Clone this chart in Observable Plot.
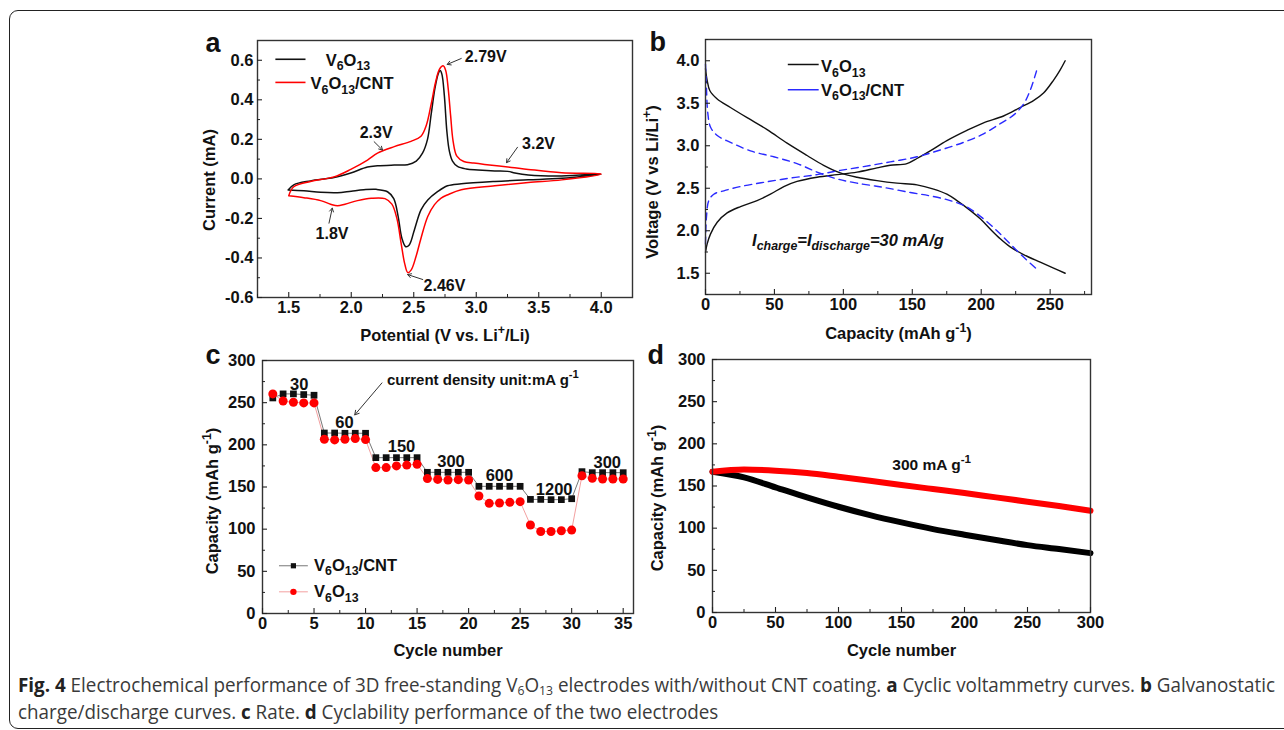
<!DOCTYPE html>
<html><head><meta charset="utf-8">
<script src="https://cdn.jsdelivr.net/npm/d3@7"></script>
<script src="https://cdn.jsdelivr.net/npm/@observablehq/plot@0.6"></script>
<style>
html,body{margin:0;padding:0;background:#fff;}
#fig{position:relative;width:1284px;height:730px;overflow:hidden;background:#fff;}
#border{position:absolute;left:9px;top:10px;width:1320px;height:719px;border:1.6px solid #222;border-radius:9px;box-sizing:border-box;}
.panel{position:absolute;}
.panel svg{overflow:visible;}
.panel svg text{font-weight:bold;font-family:"Liberation Sans",Arial,Helvetica,sans-serif;}
#caption{position:absolute;left:18px;top:671px;font-family:"Liberation Sans Narrow","Open Sans",sans-serif;font-size:20px;color:#3a3a3a;line-height:27px;white-space:nowrap;transform-origin:0 0;}
#caption div{display:inline-block;}
#caption b{color:#222;}
#caption sub{font-size:65%;vertical-align:-0.25em;line-height:0;}
</style>
</head><body>
<div id="fig">
  <div id="border"></div>
  <div id="pa" class="panel"></div>
  <div id="pb" class="panel"></div>
  <div id="pc" class="panel"></div>
  <div id="pd" class="panel"></div>
  <div id="caption"><div id="cap1"><b>Fig. 4</b> Electrochemical performance of 3D free-standing V<sub>6</sub>O<sub>13</sub> electrodes with/without CNT coating. <b>a</b> Cyclic voltammetry curves. <b>b</b> Galvanostatic</div><br><div>charge/discharge curves. <b>c</b> Rate. <b>d</b> Cyclability performance of the two electrodes</div></div>
</div>
<script>
// ---------- Panel a: cyclic voltammetry (potential V, current mA) ----------
const cvBare = [
  [1.495,-0.056],[1.54,-0.03],[1.674,-0.01],[1.862,0.007],[1.996,0.03],[2.13,0.06],[2.21,0.066],[2.344,0.07],
  [2.45,0.072],[2.52,0.09],[2.57,0.13],[2.61,0.2],[2.64,0.33],[2.67,0.46],[2.695,0.53],[2.711,0.548],[2.725,0.53],
  [2.745,0.42],[2.765,0.24],[2.785,0.14],[2.81,0.09],[2.85,0.063],[2.92,0.05],[3.014,0.045],[3.148,0.04],[3.255,0.038],
  [3.309,0.03],[3.416,0.02],[3.684,0.015],[4.0,0.025],
  [3.684,0.003],[3.416,-0.005],[3.148,-0.013],[2.88,-0.025],[2.77,-0.035],[2.69,-0.065],[2.612,-0.107],[2.558,-0.157],
  [2.505,-0.258],[2.464,-0.334],[2.436,-0.343],[2.405,-0.3],[2.375,-0.19],[2.34,-0.1],[2.29,-0.065],[2.2,-0.053],
  [2.1,-0.055],[2.0,-0.062],[1.889,-0.07],[1.755,-0.068],[1.621,-0.06],[1.495,-0.056]
];
const cvCNT = [
  [1.5,-0.085],[1.54,-0.04],[1.674,-0.013],[1.862,0.01],[1.996,0.048],[2.13,0.095],[2.21,0.13],[2.344,0.163],
  [2.478,0.19],[2.558,0.216],[2.6,0.27],[2.64,0.38],[2.675,0.49],[2.706,0.555],[2.735,0.572],[2.755,0.55],
  [2.775,0.46],[2.795,0.32],[2.815,0.19],[2.845,0.115],[2.9,0.088],[2.98,0.08],[3.067,0.073],[3.282,0.058],
  [3.416,0.048],[3.684,0.031],[4.0,0.025],
  [3.684,-0.005],[3.416,-0.018],[3.148,-0.035],[2.88,-0.055],[2.773,-0.08],[2.719,-0.097],[2.666,-0.13],[2.612,-0.19],
  [2.558,-0.3],[2.518,-0.393],[2.48,-0.46],[2.452,-0.474],[2.428,-0.43],[2.4,-0.33],[2.365,-0.2],[2.325,-0.128],
  [2.27,-0.1],[2.16,-0.098],[2.05,-0.11],[1.95,-0.128],[1.89,-0.136],[1.835,-0.128],[1.755,-0.11],[1.621,-0.095],[1.5,-0.085]
];
const aXTicks = [1.5,2.0,2.5,3.0,3.5,4.0];
const aXMinor = [1.25,1.75,2.25,2.75,3.25,3.75];
const aYTicks = [-0.6,-0.4,-0.2,0.0,0.2,0.4,0.6];
const aYMinor = [-0.5,-0.3,-0.1,0.1,0.3,0.5];
const aLabels = [
  {x:3.076,y:0.618,t:"2.79V"},{x:2.199,y:0.234,t:"2.3V"},{x:3.498,y:0.176,t:"3.2V"},
  {x:1.846,y:-0.277,t:"1.8V"},{x:2.746,y:-0.540,t:"2.46V"}
];
const aArrows = [
  {x1:2.880,y1:0.609,x2:2.768,y2:0.579},{x1:2.183,y1:0.188,x2:2.25,y2:0.146},
  {x1:3.330,y1:0.160,x2:3.242,y2:0.082},{x1:1.822,y1:-0.224,x2:1.848,y2:-0.148},
  {x1:2.572,y1:-0.509,x2:2.451,y2:-0.484}
];
const aLegend = [
  {name:"V_{6}O_{13}", color:"#111", x1:1.393, x2:1.634, y:0.605, tx:1.795, ty:0.60},
  {name:"V_{6}O_{13}/CNT", color:"#f00", x1:1.393, x2:1.634, y:0.488, tx:1.674, ty:0.482}
];

// ---------- Panel b: galvanostatic charge/discharge (capacity, voltage) ----------
const gcBareDischarge = [[0,3.906],[1.2,3.77],[3.1,3.65],[8.5,3.55],[18.1,3.45],[30.2,3.33],[44.7,3.19],[59.2,3.03],[73.7,2.885],[85.7,2.77],[97.8,2.68],[109.9,2.63],[124.4,2.59],[138.9,2.56],[153.4,2.54],[165.5,2.49],[175.1,2.43],[182.4,2.355],[192,2.24],[199.3,2.14],[206.5,2.02],[213.8,1.905],[221,1.81],[230.7,1.72],[242.8,1.63],[252.5,1.56],[260.9,1.5]];
const gcBareCharge = [[0,1.747],[1.2,1.845],[3.6,1.96],[8.5,2.10],[15.7,2.21],[25.4,2.285],[37.4,2.355],[47.1,2.43],[56.8,2.52],[66.4,2.58],[80.9,2.63],[95.4,2.66],[109.9,2.69],[124.4,2.74],[134,2.77],[146.1,2.79],[153.4,2.85],[163,2.94],[175.1,3.06],[189.6,3.18],[201.7,3.27],[216.2,3.35],[228.3,3.45],[237.9,3.53],[245.2,3.62],[252.4,3.77],[257.2,3.89],[260.9,4.0]];
const gcCNTDischarge = [[0,3.96],[0.5,3.77],[1.7,3.38],[3.6,3.22],[8.5,3.12],[18.1,3.04],[32.6,2.94],[49.5,2.87],[66.4,2.79],[80.9,2.69],[95.4,2.61],[109.9,2.56],[129.2,2.51],[148.6,2.45],[163,2.41],[177.5,2.355],[189.6,2.28],[201.7,2.14],[211.4,2.0],[221,1.845],[230.7,1.69],[240.3,1.55]];
const gcCNTCharge = [[0,1.845],[0.7,2.16],[2.4,2.355],[6,2.43],[13.3,2.47],[25.4,2.52],[42.3,2.57],[61.6,2.62],[80.9,2.66],[97.8,2.71],[114.7,2.755],[134,2.81],[153.4,2.87],[170.3,2.95],[187.2,3.04],[201.7,3.14],[213.8,3.26],[223.4,3.36],[230.7,3.49],[235.5,3.65],[240.3,3.89]];
const bXTicks = [0,50,100,150,200,250];
const bXMinor = [25,75,125,175,225,275];
const bYTicks = [1.5,2.0,2.5,3.0,3.5,4.0];
const bYMinor = [1.25,1.75,2.25,2.75,3.25,3.75,4.25];
const bLegend = [
  {name:"V_{6}O_{13}", color:"#111", dash:null, x1:59.7, x2:82.1, y:3.956, tx:83.8, ty:3.925},
  {name:"V_{6}O_{13}/CNT", color:"#2a2aff", dash:"7,5", x1:59.7, x2:82.1, y:3.659, tx:83.8, ty:3.65}
];

// ---------- Panel c: rate capability ----------
const rateCycle = [1,2,3,4,5,6,7,8,9,10,11,12,13,14,15,16,17,18,19,20,21,22,23,24,25,26,27,28,29,30,31,32,33,34,35];
const rateCNT = [255.6,260.4,260.4,259.6,258.8,214,214,213.7,213.7,213.7,184.8,184.8,184.8,184.8,184.8,167.4,167.4,167.4,167.4,167.4,150.8,150.8,150.8,150.8,150.8,135.3,135.3,135,135,136.1,168.2,167,167,167,167];
const rateBare = [260.4,252,250.5,249.7,249.7,206.6,205.8,206.6,207.4,206.2,173,173,175,176,177,160,159,158.3,158.7,158.3,139.3,130.6,131,131.8,132.6,104.9,97.3,97.3,98.1,98.9,163.4,160.3,159.5,159.5,159.5];
const rateLabels = [
  {x:3.57,y:271,t:"30"},{x:7.95,y:226.7,t:"60"},{x:13.49,y:197.5,t:"150"},{x:18.29,y:180.4,t:"300"},
  {x:22.99,y:163,t:"600"},{x:28.3,y:146.8,t:"1200"},{x:33.45,y:179.3,t:"300"}
];
const cXTicks = [0,5,10,15,20,25,30,35];
const cXMinor = [2.5,7.5,12.5,17.5,22.5,27.5,32.5];
const cYTicks = [0,50,100,150,200,250,300];
const cYMinor = [25,75,125,175,225,275];

// ---------- Panel d: cycling at 300 mA/g ----------
const cycN = [0,25,50,75,100,125,150,175,200,225,250,275,300];
const cycRed = [167,169.6,168.2,165.4,161,156.3,151.2,146.4,141.7,136.5,131.4,126.2,120.7];
const cycBlack = [167,160.3,148.4,136.5,125.4,115.5,106.8,98.9,92.2,85.9,79.9,75.2,70.4];
const dXTicks = [0,50,100,150,200,250,300];
const dXMinor = [25,75,125,175,225,275];
const dYTicks = [0,50,100,150,200,250,300];
const dYMinor = [25,75,125,175,225,275];

// ---------------------------------------------------------------
const FONT = '"Liberation Sans", Arial, Helvetica, sans-serif';
const SVGNS = "http://www.w3.org/2000/svg";

function richify(svg) {
  svg.querySelectorAll("text").forEach(t => {
    const s = t.textContent;
    if (!/[_^]\{/.test(s)) return;
    const fs = parseFloat(getComputedStyle(t).fontSize) || 15;
    const parts = [];
    const re = /([_^])\{([^}]*)\}/g;
    let last = 0, m;
    while ((m = re.exec(s))) {
      if (m.index > last) parts.push({t: s.slice(last, m.index)});
      parts.push({t: m[2], k: m[1]});
      last = re.lastIndex;
    }
    if (last < s.length) parts.push({t: s.slice(last)});
    while (t.firstChild) t.removeChild(t.firstChild);
    let shift = 0;
    for (const p of parts) {
      const ts = document.createElementNS(SVGNS, "tspan");
      const target = p.k === "_" ? 0.28 * fs : p.k === "^" ? -0.42 * fs : 0;
      if (target - shift !== 0) ts.setAttribute("dy", target - shift);
      shift = target;
      if (p.k) ts.setAttribute("font-size", (0.75 * fs).toFixed(2));
      ts.textContent = p.t;
      t.appendChild(ts);
    }
  });
}

function makePanel(cfg) {
  const tickText = {fill: "#111", fontSize: 16.5, fontWeight: "bold", label: null};
  const plot = Plot.plot({
    width: cfg.width, height: cfg.height,
    marginLeft: cfg.ml, marginRight: cfg.mr, marginTop: cfg.mt, marginBottom: cfg.mb,
    x: {domain: cfg.xDomain, label: null},
    y: {domain: cfg.yDomain, label: null},
    style: {background: "none", overflow: "visible", fontFamily: FONT, fontSize: "16px", fontWeight: "bold", color: "#111", maxWidth: "none"},
    marks: [
      ...cfg.marks,
      Plot.frame({stroke: "#333", strokeWidth: 1.4}),
      Plot.axisX({ticks: cfg.xMajor, tickSize: -5, fill: "none", stroke: "#222", strokeWidth: 1.1}),
      Plot.axisX({ticks: cfg.xMinor, tickSize: -3, fill: "none", stroke: "#222", strokeWidth: 1}),
      Plot.axisX({ticks: cfg.xMajor, tickSize: 0, tickPadding: 4, tickFormat: cfg.xFmt, ...tickText}),
      Plot.axisY({ticks: cfg.yMajor, tickSize: -5, fill: "none", stroke: "#222", strokeWidth: 1.1}),
      Plot.axisY({ticks: cfg.yMinor, tickSize: -3, fill: "none", stroke: "#222", strokeWidth: 1}),
      Plot.axisY({ticks: cfg.yMajor, tickSize: 0, tickPadding: cfg.yPad, tickFormat: cfg.yFmt, ...tickText}),
      Plot.text([cfg.letter], {text: d => d, frameAnchor: "top-left", dx: cfg.letterDx, dy: cfg.letterDy, textAnchor: "start", lineAnchor: "bottom", fontSize: 27, fill: "#111"}),
      Plot.text([cfg.xTitle], {text: d => d, frameAnchor: "bottom", dy: cfg.xTitleDy, textAnchor: "middle", lineAnchor: "middle", fontSize: 16.5, fill: "#111"}),
      Plot.text([cfg.yTitle], {text: d => d, frameAnchor: "left", dx: cfg.yTitleDx, dy: cfg.yTitleDy, rotate: -90, textAnchor: "middle", lineAnchor: "middle", fontSize: 16.5, fill: "#111"})
    ]
  });
  const host = document.getElementById(cfg.id);
  host.style.left = cfg.left + "px";
  host.style.top = cfg.top + "px";
  host.style.width = cfg.width + "px";
  host.style.height = cfg.height + "px";
  host.appendChild(plot);
  richify(plot);
  return plot;
}

const f1 = d => d.toFixed(1);
const f0 = d => String(d);

// Panel a
makePanel({
  id: "pa", left: 190, top: 20, width: 460, height: 330, ml: 67, mr: 18, mt: 20, mb: 53,
  xDomain: [1.25, 4.25], yDomain: [-0.6, 0.7],
  xMajor: aXTicks, xMinor: aXMinor, yMajor: aYTicks, yMinor: aYMinor, xFmt: f1, yFmt: f1, yPad: 4,
  letter: "a", letterDx: -52, letterDy: 11,
  xTitle: "Potential (V vs. Li^{+}/Li)", xTitleDy: 38,
  yTitle: "Current (mA)", yTitleDx: -48, yTitleDy: 11,
  marks: [
    Plot.line(cvBare, {x: d => d[0], y: d => d[1], stroke: "#111", strokeWidth: 1.5, curve: "catmull-rom"}),
    Plot.line(cvCNT, {x: d => d[0], y: d => d[1], stroke: "#f00", strokeWidth: 1.5, curve: "catmull-rom"}),
    Plot.link(aLegend, {x1: "x1", x2: "x2", y1: "y", y2: "y", stroke: d => d.color, strokeWidth: 1.6}),
    Plot.text(aLegend, {x: "tx", y: "ty", text: "name", textAnchor: "start", fontSize: 16.5, fill: "#111"}),
    Plot.arrow(aArrows, {x1: "x1", y1: "y1", x2: "x2", y2: "y2", stroke: "#333", strokeWidth: 1, headLength: 6}),
    Plot.text(aLabels, {x: "x", y: "y", text: "t", fontSize: 16, fill: "#111"})
  ]
});

// Panel b
makePanel({
  id: "pb", left: 640, top: 20, width: 470, height: 330, ml: 65, mr: 19, mt: 19, mb: 56,
  xDomain: [0, 280], yDomain: [1.25, 4.25],
  xMajor: bXTicks, xMinor: bXMinor, yMajor: bYTicks, yMinor: bYMinor, xFmt: f0, yFmt: f1, yPad: 6,
  letter: "b", letterDx: -56, letterDy: 11,
  xTitle: "Capacity (mAh g^{-1})", xTitleDy: 39,
  yTitle: "Voltage (V vs Li/Li^{+})", yTitleDx: -53, yTitleDy: 15,
  marks: [
    Plot.line(gcBareDischarge, {x: d => d[0], y: d => d[1], stroke: "#111", strokeWidth: 1.4, curve: "catmull-rom"}),
    Plot.line(gcBareCharge, {x: d => d[0], y: d => d[1], stroke: "#111", strokeWidth: 1.4, curve: "catmull-rom"}),
    Plot.line(gcCNTDischarge, {x: d => d[0], y: d => d[1], stroke: "#2a2aff", strokeWidth: 1.4, strokeDasharray: "7,5", curve: "catmull-rom"}),
    Plot.line(gcCNTCharge, {x: d => d[0], y: d => d[1], stroke: "#2a2aff", strokeWidth: 1.4, strokeDasharray: "7,5", curve: "catmull-rom"}),
    Plot.link(bLegend, {x1: "x1", x2: "x2", y1: "y", y2: "y", stroke: d => d.color, strokeDasharray: d => d.dash, strokeWidth: 1.5}),
    Plot.text(bLegend, {x: "tx", y: "ty", text: "name", textAnchor: "start", fontSize: 16.5, fill: "#111"}),
    Plot.text(["I_{charge}=I_{discharge}=30 mA/g"], {text: d => d, x: () => 33.8, y: () => 1.885, textAnchor: "start", fontSize: 16.5, fontStyle: "italic", fill: "#111"})
  ]
});

// Panel c
const rateCNTData = rateCycle.map((c, i) => ({c, v: rateCNT[i]}));
const rateBareData = rateCycle.map((c, i) => ({c, v: rateBare[i]}));
const cLegend = [
  {name: "V_{6}O_{13}/CNT", line: "#777", fill: "#111", sym: "square", r: 3.8, x1: 1.6, x2: 4.4, xm: 3.0, y: 56.6, ty: 57.0},
  {name: "V_{6}O_{13}", line: "#f3a0a0", fill: "#f00", sym: "circle", r: 4.5, x1: 1.6, x2: 4.4, xm: 3.0, y: 25.7, ty: 25.5}
];
makePanel({
  id: "pc", left: 190, top: 340, width: 460, height: 330, ml: 72, mr: 17, mt: 20, mb: 57,
  xDomain: [0, 36], yDomain: [0, 300],
  xMajor: cXTicks, xMinor: cXMinor, yMajor: cYTicks, yMinor: cYMinor, xFmt: f0, yFmt: f0, yPad: 7,
  letter: "c", letterDx: -57, letterDy: 3,
  xTitle: "Cycle number", xTitleDy: 37,
  yTitle: "Capacity (mAh g^{-1})", yTitleDx: -50, yTitleDy: 14,
  marks: [
    Plot.line(rateCNTData, {x: "c", y: "v", stroke: "#777", strokeWidth: 1}),
    Plot.line(rateBareData, {x: "c", y: "v", stroke: "#f3a0a0", strokeWidth: 1}),
    Plot.dot(rateCNTData, {x: "c", y: "v", symbol: "square", r: 3.8, fill: "#111", stroke: "none"}),
    Plot.dot(rateBareData, {x: "c", y: "v", symbol: "circle", r: 4.5, fill: "#f00", stroke: "none"}),
    Plot.text(rateLabels, {x: "x", y: "y", text: "t", fontSize: 16.5, fill: "#111"}),
    Plot.text(["current density unit:mA g^{-1}"], {text: d => d, x: () => 12.07, y: () => 277, textAnchor: "start", fontSize: 15, fill: "#111"}),
    Plot.arrow([{x1: 11.59, y1: 273.4, x2: 8.95, y2: 235.5}], {x1: "x1", y1: "y1", x2: "x2", y2: "y2", stroke: "#333", strokeWidth: 1, headLength: 7}),
    Plot.link(cLegend, {x1: "x1", x2: "x2", y1: "y", y2: "y", stroke: "line", strokeWidth: 1}),
    Plot.dot(cLegend, {x: "xm", y: "y", symbol: "sym", r: "r", fill: "fill", stroke: "none"}),
    Plot.text(cLegend, {x: () => 5.0, y: "ty", text: "name", textAnchor: "start", fontSize: 16.5, fill: "#111"})
  ]
});

// Panel d
const cycRedData = cycN.map((c, i) => ({c, v: cycRed[i]}));
const cycBlackData = cycN.map((c, i) => ({c, v: cycBlack[i]}));
makePanel({
  id: "pd", left: 640, top: 340, width: 470, height: 330, ml: 72, mr: 20, mt: 19, mb: 58,
  xDomain: [0, 300], yDomain: [0, 300],
  xMajor: dXTicks, xMinor: dXMinor, yMajor: dYTicks, yMinor: dYMinor, xFmt: f0, yFmt: f0, yPad: 7,
  letter: "d", letterDx: -65, letterDy: 4,
  xTitle: "Cycle number", xTitleDy: 38,
  yTitle: "Capacity (mAh g^{-1})", yTitleDx: -55, yTitleDy: 12,
  marks: [
    Plot.line(cycBlackData, {x: "c", y: "v", stroke: "#000", strokeWidth: 6, curve: "monotone-x"}),
    Plot.line(cycRedData, {x: "c", y: "v", stroke: "#f00", strokeWidth: 6, curve: "monotone-x"}),
    Plot.text(["300 mA g^{-1}"], {text: d => d, x: () => 142.7, y: () => 175.3, textAnchor: "start", fontSize: 15.5, fill: "#111"})
  ]
});

// caption fit
(function fitCaption(){
  const cap = document.getElementById("caption");
  const w = document.getElementById("cap1").getBoundingClientRect().width;
  if (w > 0) cap.style.transform = `scaleX(${(1257 / w).toFixed(4)})`;
})();
</script>
</body></html>
